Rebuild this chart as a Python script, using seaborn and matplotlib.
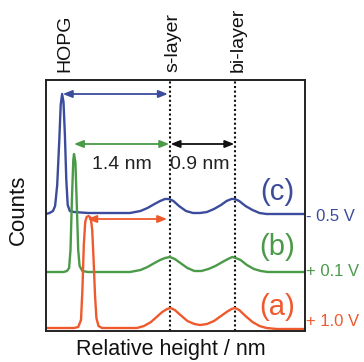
import numpy as np
import pandas as pd
import matplotlib
matplotlib.use("Agg")
import matplotlib.pyplot as plt
import matplotlib.transforms as mtransforms
import seaborn as sns

# ---------------- data (relative height in nm, counts in arbitrary units) ----------------
x_c = [0.00, 0.05, 0.10, 0.13, 0.16, 0.19, 0.21, 0.23, 0.25, 0.27, 0.29, 0.31, 0.34, 0.40, 0.60,
       1.20, 1.35, 1.45, 1.55, 1.63, 1.70, 1.76, 1.82, 1.90, 2.00, 2.10, 2.20, 2.30, 2.40, 2.50,
       2.58, 2.65, 2.70, 2.76, 2.85, 2.95, 3.05, 3.15, 3.30, 3.70]
y_c = [116, 117, 119, 124, 145, 190, 225, 236, 228, 195, 150, 125, 119, 118, 117,
       117, 119, 122, 126, 129, 131, 131, 129, 124, 119, 117, 117, 118, 121, 125,
       129, 131, 131, 129, 124, 120, 117, 116, 116, 116]

x_b = [0.00, 0.15, 0.25, 0.30, 0.33, 0.35, 0.37, 0.39, 0.40, 0.42, 0.44, 0.46, 0.48, 0.52, 0.60,
       1.20, 1.35, 1.45, 1.55, 1.63, 1.70, 1.77, 1.84, 1.92, 2.02, 2.12, 2.22, 2.32, 2.42, 2.52,
       2.60, 2.66, 2.71, 2.78, 2.87, 2.97, 3.07, 3.17, 3.30, 3.70]
y_b = [58, 58, 58, 59, 62, 80, 130, 170, 176, 168, 125, 80, 64, 59, 58,
       58, 60, 63, 67, 70, 72, 73, 71, 67, 62, 59, 59, 61, 64, 68,
       71, 73, 72, 70, 65, 61, 59, 58, 58, 58]

x_a = [0.00, 0.20, 0.40, 0.46, 0.50, 0.52, 0.54, 0.56, 0.58, 0.61, 0.64, 0.66, 0.68, 0.70, 0.72,
       0.75, 0.80, 1.00, 1.30, 1.40, 1.50, 1.58, 1.66, 1.73, 1.78, 1.84, 1.92, 2.02, 2.12, 2.20,
       2.30, 2.40, 2.50, 2.58, 2.65, 2.70, 2.76, 2.85, 2.95, 3.05, 3.15, 3.30, 3.70]
y_a = [2, 2, 2, 3, 10, 40, 85, 108, 113, 114, 112, 100, 70, 35, 12,
       4, 2, 2, 2, 4, 8, 13, 18, 21, 22, 20, 15, 9, 6, 5,
       6, 9, 14, 18, 21, 22, 20, 14, 8, 4, 2, 1, 1]

series_names = ["(c)", "(b)", "(a)"]
voltages = ["- 0.5 V", "+ 0.1 V", "+ 1.0 V"]
colors = ["#3b4c9c", "#4a9a48", "#ee5a2e"]

layer_names = ["s-layer", "bi-layer"]
layer_pos = [1.77, 2.70]
hopg_label = "HOPG"
dist_labels = ["1.4 nm", "0.9 nm"]

df = pd.concat([
    pd.DataFrame({"x": x_c, "y": y_c, "s": "(c)"}),
    pd.DataFrame({"x": x_b, "y": y_b, "s": "(b)"}),
    pd.DataFrame({"x": x_a, "y": y_a, "s": "(a)"}),
], ignore_index=True)

# ---------------- figure ----------------
sns.set_style("white")
plt.rcParams["font.family"] = ["Liberation Sans", "DejaVu Sans"]

fig = plt.figure(figsize=(3.64, 3.62), dpi=100)
ax = fig.add_axes([46 / 364, 1 - 331 / 362, 259 / 364, 251 / 362])

sns.lineplot(data=df, x="x", y="y", hue="s", hue_order=series_names,
             palette=colors, ax=ax, legend=False, linewidth=1.7, sort=False,
             estimator=None)

ax.set_xlim(0, 3.70)
ax.set_ylim(-1, 250)
ax.set_xticks([])
ax.set_yticks([])
ax.set_xlabel("")
ax.set_ylabel("")
for sp in ax.spines.values():
    sp.set_linewidth(1.4)
    sp.set_color("#222222")

# dotted guide lines
for p in layer_pos:
    ax.axvline(p, color="#111111", lw=1.5, ls=(0, (1, 1.2)), zorder=1)

# top labels
trans = mtransforms.blended_transform_factory(ax.transData, ax.transAxes)
ax.text(0.27, 1.03, hopg_label, transform=trans, rotation=90, ha="center",
        va="bottom", fontsize=14, color="#111111")
ax.text(1.82, 1.03, layer_names[0], transform=trans, rotation=90, ha="center",
        va="bottom", fontsize=14, color="#111111", clip_on=False)
ax.text(2.75, 1.03, layer_names[1], transform=trans, rotation=90, ha="center",
        va="bottom", fontsize=14, color="#111111", clip_on=False)

# arrows
def darrow(x0, x1, y, c):
    ax.annotate("", xy=(x1, y), xytext=(x0, y),
                arrowprops=dict(arrowstyle="<|-|>,head_length=0.55,head_width=0.22",
                                color=c, lw=1.3, shrinkA=0, shrinkB=0))

darrow(0.24, 1.74, 236, colors[0])
darrow(0.40, 1.76, 186, colors[1])
darrow(1.78, 2.69, 186, "#111111")
darrow(0.59, 1.73, 111, colors[2])

ax.text(1.09, 166, dist_labels[0], ha="center", va="center", fontsize=14, color="#222222")
ax.text(2.20, 166, dist_labels[1], ha="center", va="center", fontsize=14, color="#222222")

# series labels
for name, yv, c in zip(series_names, [138, 83, 23], colors):
    ax.text(3.30, yv, name, ha="center", va="center", fontsize=21, color=c)

# voltage labels outside right
for v, yv, c in zip(voltages, [114, 58, 8], colors):
    ax.text(3.72, yv, v, ha="left", va="center", fontsize=12, color=c, clip_on=False)

fig.text(171 / 364, 1 - 350 / 362, "Relative height / nm", ha="center", va="center",
         fontsize=15.5, color="#111111")
fig.text(18 / 364, 1 - 210 / 362, "Counts", ha="center", va="center", rotation=90,
         fontsize=16, color="#111111")

fig.savefig("out.png", dpi=100)
